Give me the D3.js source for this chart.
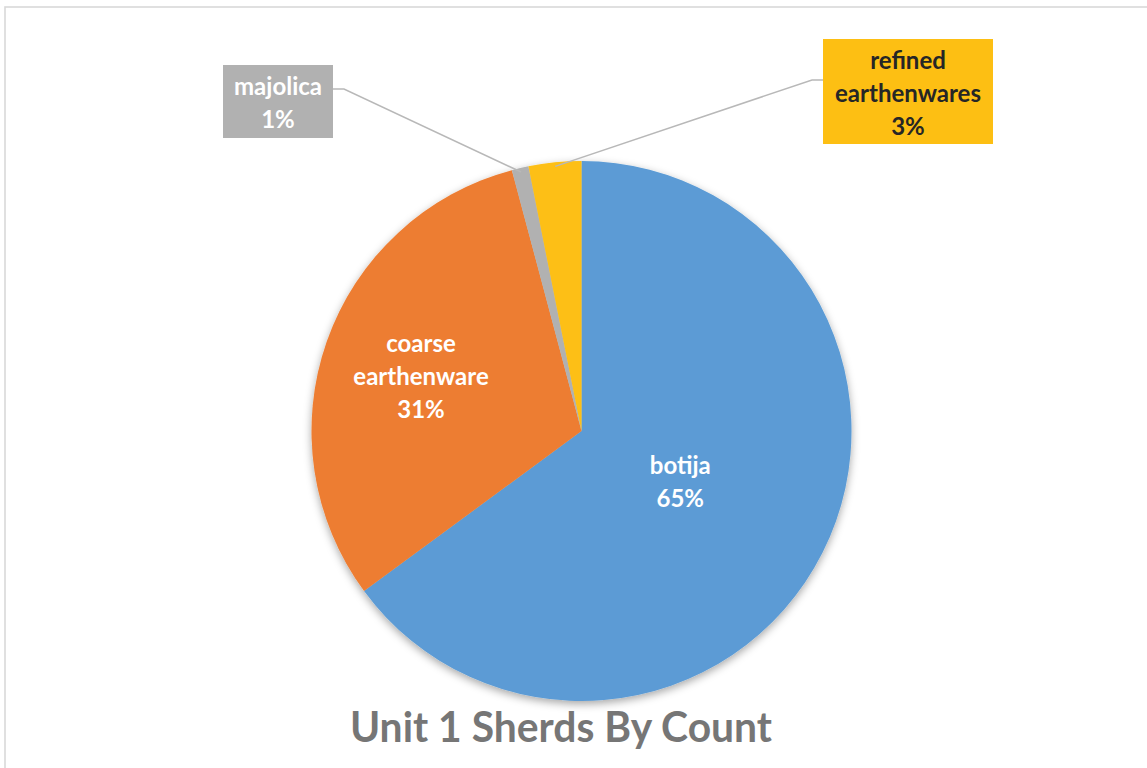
<!DOCTYPE html>
<html>
<head>
<meta charset="utf-8">
<script src="https://cdn.jsdelivr.net/npm/d3@7"></script>
<style>
  html, body { margin: 0; padding: 0; background: #fff; }
  svg { display: block; }
  text { font-family: Lato, "Open Sans", sans-serif; font-weight: bold; }
</style>
</head>
<body>
<svg id="chart" width="1147" height="768"></svg>
<script>
// ---- data ----
const categories = ["botija", "coarse earthenware", "majolica", "refined earthenwares"];
const values = [64.9, 30.95, 1.0, 3.15];
const colors = ["#5b9bd5", "#ed7d31", "#b1b1b1", "#fdbf13"];
const labelLines = [["botija"], ["coarse", "earthenware"], ["majolica"], ["refined", "earthenwares"]];
const title = "Unit 1 Sherds By Count";

// ---- layout ----
const cx = 581.5, cy = 431, R = 270;
const svg = d3.select("#chart");

svg.append("rect").attr("x", 5).attr("y", 7).attr("width", 1300).attr("height", 900)
  .attr("fill", "none").attr("stroke", "#d9d9d9").attr("stroke-width", 1.6);

const defs = svg.append("defs");
const f = defs.append("filter").attr("id", "shadow").attr("x", "-20%").attr("y", "-20%").attr("width", "140%").attr("height", "140%");
f.append("feDropShadow").attr("dx", 0).attr("dy", 3).attr("stdDeviation", 4.5)
  .attr("flood-color", "#000").attr("flood-opacity", 0.35);

const total = d3.sum(values);
const pie = d3.pie().sort(null).value(d => d.v).startAngle(0).endAngle(2 * Math.PI);
const data = categories.map((c, i) => ({ c, v: values[i], color: colors[i], lines: labelLines[i] }));
const arcs = pie(data);
const arc = d3.arc().innerRadius(0).outerRadius(R);

const g = svg.append("g").attr("transform", `translate(${cx},${cy})`);
g.append("g").attr("filter", "url(#shadow)")
  .selectAll("path").data(arcs).join("path")
  .attr("d", arc).attr("fill", d => d.data.color);

const pct = d => Math.round(d.data.v / total * 100) + "%";

// inside labels
const insideRadius = { "botija": 0.41, "coarse earthenware": 0.63 };
arcs.filter(d => insideRadius[d.data.c] !== undefined).forEach(d => {
  const r = insideRadius[d.data.c] * R;
  const [x, y] = d3.arc().innerRadius(r).outerRadius(r).centroid(d);
  const lines = d.data.lines.concat([pct(d)]);
  const lh = 33;
  const t = g.append("text").attr("text-anchor", "middle").attr("fill", "#fff").attr("font-size", 24);
  lines.forEach((l, i) => {
    t.append("tspan").attr("x", x).attr("y", y + (i - (lines.length - 1) / 2) * lh + 10).text(l);
  });
});

// outside labels with boxes
const outside = {
  "majolica": { box: [223, 65, 110, 73], elbow: [344, 89], anchor: [333, 89], fill: "#b1b1b1", textColor: "#fff" },
  "refined earthenwares": { box: [823, 39, 170, 105], elbow: [812, 80], anchor: [823, 80], fill: "#fdbf13", textColor: "#262626" }
};
arcs.filter(d => outside[d.data.c]).forEach(d => {
  const o = outside[d.data.c];
  const a = (d.startAngle + d.endAngle) / 2;
  const px = cx + Math.sin(a) * R * 0.985, py = cy - Math.cos(a) * R * 0.985;
  svg.append("polyline")
    .attr("points", [[px, py], o.elbow, o.anchor].map(p => p.join(",")).join(" "))
    .attr("fill", "none").attr("stroke", "#b8b8b8").attr("stroke-width", 1.5);
  const [bx, by, bw, bh] = o.box;
  svg.append("rect").attr("x", bx).attr("y", by).attr("width", bw).attr("height", bh).attr("fill", o.fill);
  const lines = d.data.lines.concat([pct(d)]);
  const lh = 33;
  const t = svg.append("text").attr("text-anchor", "middle").attr("fill", o.textColor).attr("font-size", 24);
  lines.forEach((l, i) => {
    t.append("tspan").attr("x", bx + bw / 2).attr("y", by + bh / 2 + (i - (lines.length - 1) / 2) * lh + 10).text(l);
  });
});

// title
svg.append("text").attr("x", 561).attr("y", 742).attr("text-anchor", "middle")
  .attr("fill", "#767676").attr("font-size", 42)
  .attr("textLength", 422).attr("lengthAdjust", "spacingAndGlyphs")
  .text(title);
</script>
</body>
</html>
